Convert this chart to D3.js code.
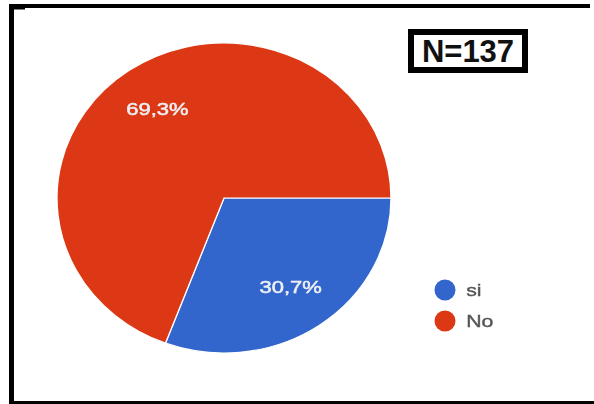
<!DOCTYPE html>
<html>
<head>
<meta charset="utf-8">
<script src="https://cdn.jsdelivr.net/npm/d3@7"></script>
<style>
  html, body { margin: 0; padding: 0; background: #fff; }
  svg { display: block; }
</style>
</head>
<body>
<svg id="chart" width="594" height="404"></svg>
<script>
// Survey answers (share of respondents, %)
const categories = ["si", "No"];
const values = [30.7, 69.3];
const valueLabels = ["30,7%", "69,3%"];
const colors = ["#3366cc", "#dc3912"];
const sampleLabel = "N=137";

const svg = d3.select("#chart");

const defs = svg.append("defs");
defs.append("filter").attr("id", "soft")
  .attr("x", "-10%").attr("y", "-10%").attr("width", "120%").attr("height", "120%")
  .append("feGaussianBlur").attr("stdDeviation", 0.7);

// Outer frame lines
const frame = svg.append("g").attr("fill", "#000");
frame.append("rect").attr("x", 9).attr("y", 4).attr("width", 581).attr("height", 4);
frame.append("rect").attr("x", 9).attr("y", 4).attr("width", 5).attr("height", 400);
frame.append("rect").attr("x", 9).attr("y", 401).attr("width", 585).attr("height", 3);
frame.append("rect").attr("x", 14).attr("y", 8).attr("width", 11).attr("height", 1.5);

// Pie, starting at 3 o'clock and running clockwise
const radius = 155;
const cx = 224, cy = 198, sx = 167 / 155;

const pie = d3.pie().sort(null)
  .startAngle(Math.PI / 2).endAngle(Math.PI / 2 + 2 * Math.PI)
  .value(d => d);
const arcs = pie(values);
const arc = d3.arc().innerRadius(0).outerRadius(radius);
const labelArc = d3.arc().innerRadius(0.7 * radius * 2).outerRadius(0);

const pieG = svg.append("g")
  .attr("transform", `translate(${cx},${cy}) scale(${sx},1)`)
  .attr("filter", "url(#soft)");

pieG.selectAll("path.slice")
  .data(arcs)
  .join("path")
  .attr("class", "slice")
  .attr("d", arc)
  .attr("fill", (d, i) => colors[i])
  .attr("stroke", "#fff")
  .attr("stroke-width", 1.2);

// Slice value labels on a ring at 70% of the radius
pieG.selectAll("text.val")
  .data(arcs)
  .join("text")
  .attr("class", "val")
  .attr("transform", d => {
    const [x, y] = labelArc.centroid(d);
    return `translate(${x},${y}) scale(1.2,1)`;
  })
  .attr("text-anchor", "middle")
  .attr("dy", "0.36em")
  .attr("font-family", "Arial, 'Liberation Sans', sans-serif")
  .attr("font-size", 17)
  .attr("fill", "#eef0f4")
  .attr("stroke", "#eef0f4")
  .attr("stroke-width", 0.5)
  .text((d, i) => valueLabels[i]);

// Legend
const legend = svg.append("g")
  .attr("transform", "translate(445,290)")
  .attr("filter", "url(#soft)");
const item = legend.selectAll("g.item")
  .data(categories)
  .join("g")
  .attr("class", "item")
  .attr("transform", (d, i) => `translate(0,${i * 31})`);
item.append("circle")
  .attr("r", 10.5)
  .attr("fill", (d, i) => colors[i]);
item.append("text")
  .attr("x", 17)
  .attr("dy", "0.36em")
  .attr("transform", "scale(1.25,1)")
  .attr("font-family", "Arial, 'Liberation Sans', sans-serif")
  .attr("font-size", 17)
  .attr("fill", "#555")
  .attr("stroke", "#555")
  .attr("stroke-width", 0.4)
  .text(d => d);

// Sample size box
const nBox = svg.append("g");
nBox.append("rect")
  .attr("x", 411).attr("y", 32)
  .attr("width", 114).attr("height", 38)
  .attr("fill", "#fff").attr("stroke", "#000").attr("stroke-width", 6);
nBox.append("text")
  .attr("x", 468).attr("y", 51)
  .attr("dy", "0.36em")
  .attr("text-anchor", "middle")
  .attr("font-family", "Arial, 'Liberation Sans', sans-serif")
  .attr("font-weight", "bold")
  .attr("font-size", 31)
  .attr("fill", "#111")
  .text(sampleLabel);
</script>
</body>
</html>
